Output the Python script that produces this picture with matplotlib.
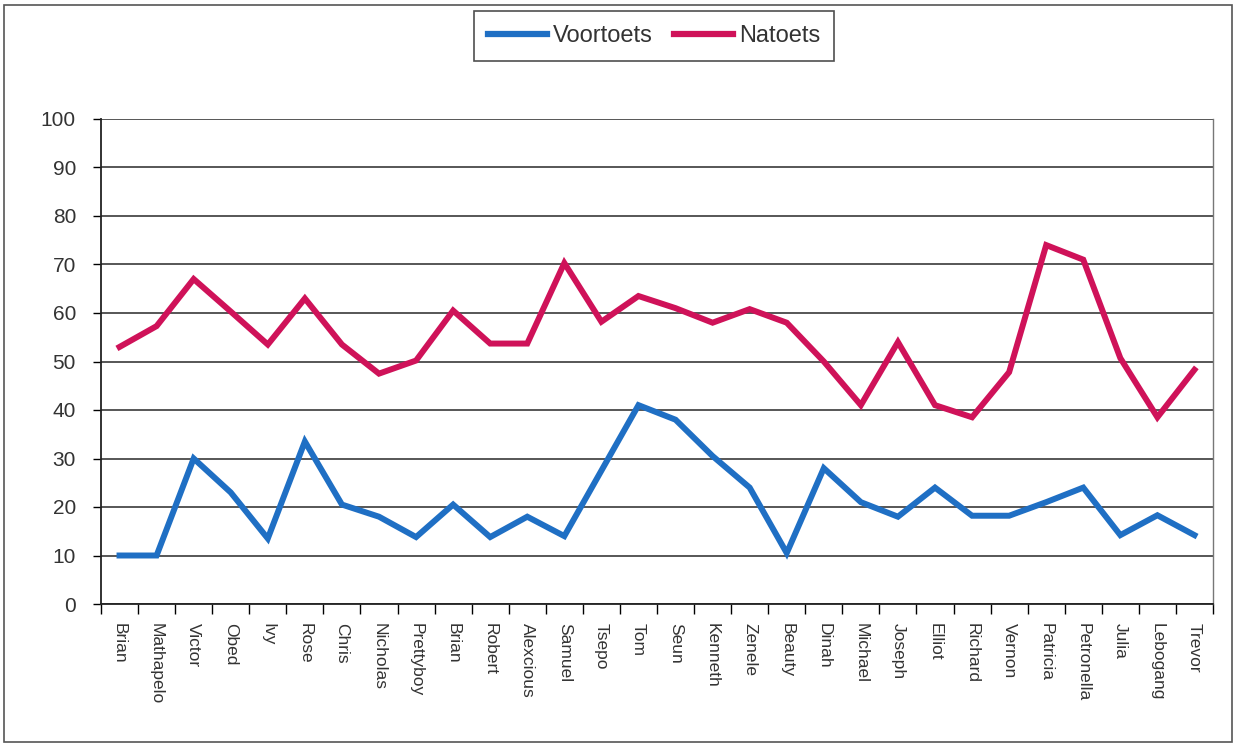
import matplotlib
matplotlib.use('Agg')
import matplotlib.pyplot as plt
import numpy as np
from matplotlib.patches import Rectangle

plt.rcParams['font.family'] = ['Liberation Sans', 'DejaVu Sans']

# data
names = ['Brian', 'Mathapelo', 'Victor', 'Obed', 'Ivy', 'Rose', 'Chris', 'Nicholas',
         'Prettyboy', 'Brian', 'Robert', 'Alexcious', 'Samuel', 'Tsepo', 'Tom', 'Seun',
         'Kenneth', 'Zenele', 'Beauty', 'Dinah', 'Michael', 'Joseph', 'Elliot', 'Richard',
         'Vernon', 'Patricia', 'Petronella', 'Julia', 'Lebogang', 'Trevor']
voortoets = [10, 10, 30, 23, 13.5, 33.5, 20.5, 18, 13.8, 20.5, 13.8, 18, 14, 27.5, 41,
             38, 30.5, 24, 10.5, 28, 21, 18, 24, 18.2, 18.2, 21, 24, 14.2, 18.3, 14.2]
natoets = [53, 57.3, 67, 60.3, 53.5, 63, 53.5, 47.5, 50.2, 60.5, 53.7, 53.7, 70.3, 58.2,
           63.5, 61, 58, 60.8, 58, 50, 41, 54, 41, 38.5, 47.8, 74, 71, 50.7, 38.5, 48.3]

blue = '#1f6fc4'
red = '#cf1259'
txt = '#333333'

fig = plt.figure(figsize=(12.37, 7.47), dpi=100)
ax = fig.add_axes([101 / 1237, 1 - 604 / 747, 1112 / 1237, 485 / 747])

x = np.arange(len(names))
ax.plot(x, voortoets, color=blue, lw=4.3, solid_joinstyle='miter', label='Voortoets', zorder=3)
ax.plot(x, natoets, color=red, lw=4.3, solid_joinstyle='miter', label='Natoets', zorder=3)

ax.set_xlim(-0.5, len(names) - 0.5)
ax.set_ylim(0, 100)
ax.set_yticks(np.arange(0, 101, 10))
ax.tick_params(axis='y', labelsize=15, labelcolor=txt, length=6, width=1, direction='out', pad=12)
ax.yaxis.grid(True, color='#3a3a3a', lw=1.2)
ax.set_axisbelow(True)

# category labels centred, tick marks between categories
ax.set_xticks(x)
ax.set_xticklabels(names, rotation=270, fontsize=12.5, color=txt)
ax.tick_params(axis='x', which='major', length=0, pad=14)
ax.set_xticks(np.arange(-0.5, len(names)), minor=True)
ax.tick_params(axis='x', which='minor', length=7, width=1, direction='out')

for s in ['left', 'bottom']:
    ax.spines[s].set_color('#222222')
    ax.spines[s].set_linewidth(1.3)
ax.spines['top'].set_visible(False)
ax.spines['right'].set_color('#777777')
ax.spines['right'].set_linewidth(1.0)

leg = fig.legend(loc='upper center', bbox_to_anchor=(654 / 1237, 1 - 11 / 747), ncol=2,
                 fontsize=17, handlelength=2.5, handletextpad=0.25, columnspacing=0.9,
                 borderpad=0.6, borderaxespad=0, fancybox=False, frameon=True)
leg.get_frame().set_edgecolor('#222222')
leg.get_frame().set_linewidth(1.2)
for t in leg.get_texts():
    t.set_color(txt)
for h in leg.get_lines():
    h.set_linewidth(4.5)

# outer chart border
fig.patches.append(Rectangle((4 / 1237, 5 / 747), 1 - 9 / 1237, 1 - 10 / 747,
                             transform=fig.transFigure, fill=False, edgecolor='#555555', lw=1.2))

fig.savefig('out.png', dpi=100)
